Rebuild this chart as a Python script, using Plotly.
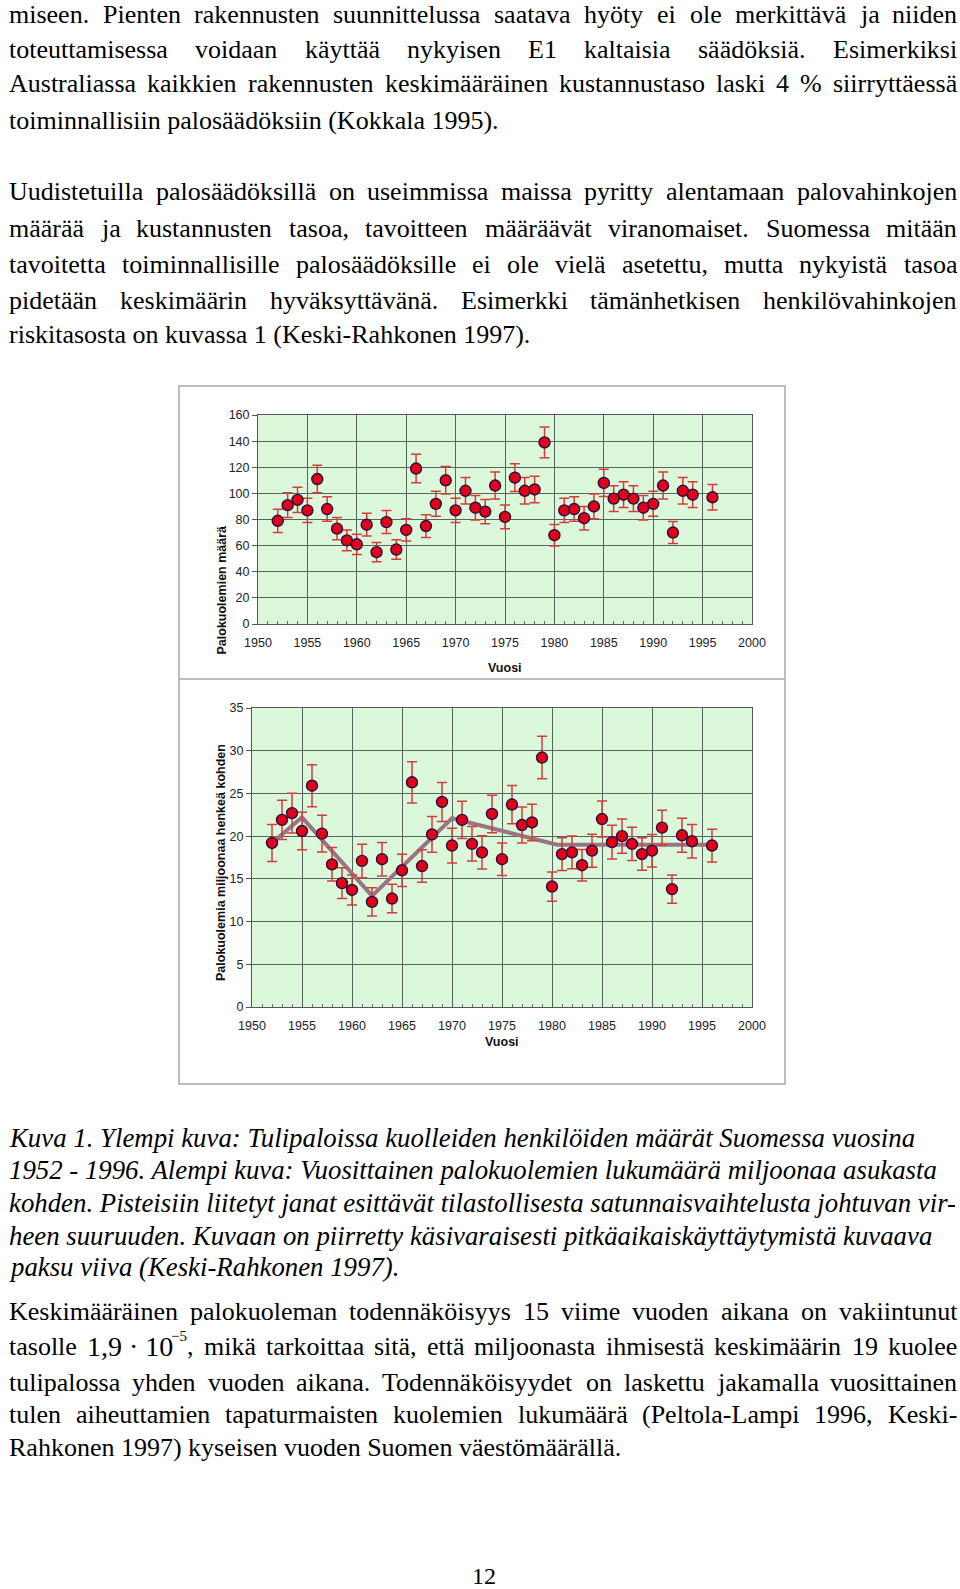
import plotly.graph_objects as go

W, H = 960, 1589

# ---------------- data ----------------
years = [1952, 1953, 1954, 1955, 1956, 1957, 1958, 1959, 1960, 1961, 1962,
         1963, 1964, 1965, 1966, 1967, 1968, 1969, 1970, 1971, 1972, 1973,
         1974, 1975, 1976, 1977, 1978, 1979, 1980, 1981, 1982, 1983, 1984,
         1985, 1986, 1987, 1988, 1989, 1990, 1991, 1992, 1993, 1994, 1996]

deaths = [79, 91, 95, 87, 111, 88, 73, 64, 61, 76, 55,
          78, 57, 72, 119, 75, 92, 110, 87, 102, 89, 86,
          106, 82, 112, 102, 103, 139, 68, 87, 88, 81, 90,
          108, 96, 99, 96, 89, 92, 106, 70, 102, 99, 97]

deaths_err = [8.9, 9.5, 9.7, 9.3, 10.5, 9.4, 8.5, 8.0, 7.8, 8.7, 7.4,
              8.8, 7.5, 8.5, 10.9, 8.7, 9.6, 10.5, 9.3, 10.1, 9.4, 9.3,
              10.3, 9.1, 10.6, 10.1, 10.1, 11.8, 8.2, 9.3, 9.4, 9.0, 9.5,
              10.4, 9.8, 9.9, 9.8, 9.4, 9.6, 10.3, 8.4, 10.1, 9.9, 9.8]

rate = [19.2, 21.9, 22.7, 20.6, 25.9, 20.3, 16.7, 14.5, 13.7, 17.1, 12.3,
        17.3, 12.7, 16.0, 26.3, 16.5, 20.2, 24.0, 18.9, 21.9, 19.1, 18.1,
        22.6, 17.3, 23.7, 21.3, 21.6, 29.2, 14.1, 17.9, 18.1, 16.6, 18.3,
        22.0, 19.3, 20.0, 19.1, 17.9, 18.3, 21.0, 13.8, 20.1, 19.4, 18.9]

rate_err = [2.16, 2.30, 2.33, 2.20, 2.46, 2.16, 1.96, 1.81, 1.75, 1.96, 1.66,
            1.96, 1.68, 1.89, 2.41, 1.90, 2.10, 2.29, 2.03, 2.17, 2.02, 1.96,
            2.19, 1.91, 2.24, 2.11, 2.13, 2.48, 1.71, 1.92, 1.93, 1.84, 1.93,
            2.11, 1.97, 2.01, 1.95, 1.90, 1.90, 2.04, 1.65, 1.99, 1.95, 1.92]

trend_years = [1952, 1955, 1962, 1970, 1980.5, 1996]
trend_vals = [19.2, 22.2, 13.0, 22.1, 19.0, 19.0]

x_ticks = [1950, 1955, 1960, 1965, 1970, 1975, 1980, 1985, 1990, 1995, 2000]
top_y_ticks = [0, 20, 40, 60, 80, 100, 120, 140, 160]
bot_y_ticks = [0, 5, 10, 15, 20, 25, 30, 35]

title_top_y = "Palokuolemien määrä"
title_bot_y = "Palokuolemia miljoonaa henkeä kohden"
title_x = "Vuosi"

para1 = [
    ("miseen. Pienten rakennusten suunnittelussa saatava hyöty ei ole merkittävä ja niiden", True),
    ("toteuttamisessa voidaan käyttää nykyisen E1 kaltaisia säädöksiä. Esimerkiksi", True),
    ("Australiassa kaikkien rakennusten keskimääräinen kustannustaso laski 4 % siirryttäessä", True),
    ("toiminnallisiin palosäädöksiin (Kokkala 1995).", False),
]
para2 = [
    ("Uudistetuilla palosäädöksillä on useimmissa maissa pyritty alentamaan palovahinkojen", True),
    ("määrää ja kustannusten tasoa, tavoitteen määräävät viranomaiset. Suomessa mitään", True),
    ("tavoitetta toiminnallisille palosäädöksille ei ole vielä asetettu, mutta nykyistä tasoa", True),
    ("pidetään keskimäärin hyväksyttävänä. Esimerkki tämänhetkisen henkilövahinkojen", True),
    ("riskitasosta on kuvassa 1 (Keski-Rahkonen 1997).", False),
]
caption = [
    "Kuva 1. Ylempi kuva: Tulipaloissa kuolleiden henkilöiden määrät Suomessa vuosina",
    "1952 - 1996. Alempi kuva: Vuosittainen palokuolemien lukumäärä miljoonaa asukasta",
    "kohden. Pisteisiin liitetyt janat esittävät tilastollisesta satunnaisvaihtelusta johtuvan vir-",
    "heen suuruuden. Kuvaan on piirretty käsivaraisesti pitkäaikaiskäyttäytymistä kuvaava",
    "paksu viiva (Keski-Rahkonen 1997).",
]
para3 = [
    ("Keskimääräinen palokuoleman todennäköisyys 15 viime vuoden aikana on vakiintunut", True),
    ("tasolle @MATH mikä tarkoittaa sitä, että miljoonasta ihmisestä keskimäärin 19 kuolee", True),
    ("tulipalossa yhden vuoden aikana. Todennäköisyydet on laskettu jakamalla vuosittainen", True),
    ("tulen aiheuttamien tapaturmaisten kuolemien lukumäärä (Peltola-Lampi 1996, Keski-", True),
    ("Rahkonen 1997) kyseisen vuoden Suomen väestömäärällä.", False),
]
page_number = "12"


def PX(x):
    return x / W


def PY(y):
    return 1 - y / H


# ---------------- text layout helpers ----------------
ROMAN = {' ': 250, '%': 833, '(': 333, ')': 333, ',': 250, '-': 333, '.': 250,
         ':': 278, '·': 250, '−': 564}
for d in '0123456789':
    ROMAN[d] = 500
ROMAN.update(dict(zip('ABCDEFGHIJKLMNOPQRSTUVWXYZ',
                      [722, 667, 667, 722, 611, 556, 722, 722, 333, 389, 722, 611, 889,
                       722, 722, 556, 722, 667, 556, 611, 722, 722, 944, 722, 722, 611])))
ROMAN.update(dict(zip('abcdefghijklmnopqrstuvwxyz',
                      [444, 500, 444, 500, 444, 333, 500, 500, 278, 278, 500, 278, 778,
                       500, 500, 500, 500, 333, 389, 278, 500, 500, 722, 500, 500, 444])))
ROMAN.update({'ä': 444, 'ö': 500, 'å': 444, 'Ä': 722, 'Ö': 722})

ITALIC = {' ': 250, '(': 333, ')': 333, ',': 250, '-': 333, '.': 250, ':': 333}
for d in '0123456789':
    ITALIC[d] = 500
ITALIC.update(dict(zip('ABCDEFGHIJKLMNOPQRSTUVWXYZ',
                       [611, 611, 667, 722, 611, 611, 722, 722, 333, 444, 667, 556, 833,
                        667, 722, 611, 722, 611, 500, 556, 722, 611, 833, 611, 556, 556])))
ITALIC.update(dict(zip('abcdefghijklmnopqrstuvwxyz',
                       [500, 500, 444, 500, 444, 278, 500, 500, 278, 278, 444, 278, 722,
                        500, 500, 500, 500, 389, 389, 278, 500, 444, 667, 444, 444, 389])))
ITALIC.update({'ä': 500, 'ö': 500})

LEFT, RIGHT = 8, 956
annotations = []
SERIF = "Liberation Serif, Times New Roman, serif"


def tw(s, size, table):
    return sum(table.get(c, 500) for c in s) * size / 1000.0


def add_piece(text, x, y, size, italic=False):
    annotations.append(dict(
        text=("<i>%s</i>" % text) if italic else text,
        x=PX(x), y=PY(y), xref="paper", yref="paper",
        xanchor="left", yanchor="middle", showarrow=False, borderpad=0,
        font=dict(family=SERIF, size=size, color="#000000")))


def add_line(line, y, size, justify, italic=False):
    if not justify:
        add_piece(line, LEFT, y, size, italic)
        return
    table = ITALIC if italic else ROMAN
    words = []
    for w in line.split(" "):
        if w == "@MATH":
            words.append([("1,9 · 10", 28, 0), ("−5", 15, -10), (",", size, 0)])
        else:
            words.append([(w, size, 0)])
    widths = [sum(tw(t, s, table) for t, s, _ in wd) for wd in words]
    gap = (RIGHT - LEFT - sum(widths)) / (len(words) - 1)
    x = LEFT
    for wd, wdt in zip(words, widths):
        xx = x
        for t, s, dy in wd:
            add_piece(t, xx, y + dy, s, italic)
            xx += tw(t, s, table)
        x += wdt + gap


BODY = 26
for (txt, j), y in zip(para1, [15, 49, 84, 120]):
    add_line(txt, y, BODY, j)
for (txt, j), y in zip(para2, [192, 228, 264, 300, 335]):
    add_line(txt, y, BODY, j)
cap_size = (RIGHT - LEFT) / (tw(caption[2], 1000, ITALIC) / 1000.0)
for txt, y in zip(caption, [1138, 1170, 1203, 1236, 1267]):
    add_line(txt, y, round(cap_size, 1), False, italic=True)
for (txt, j), y in zip(para3, [1311, 1346, 1382, 1414, 1447]):
    add_line(txt, y, BODY, j)

annotations.append(dict(text=page_number, x=PX(484), y=PY(1576), xref="paper", yref="paper",
                        xanchor="center", yanchor="middle", showarrow=False,
                        font=dict(family=SERIF, size=24, color="#000")))

# axis titles
sans_bold = dict(family="Liberation Sans, Arial, sans-serif", size=12.5, color="#111")
annotations += [
    dict(text="<b>%s</b>" % title_top_y, x=PX(212), y=PY(524), xref="paper", yref="paper",
         textangle=-90, showarrow=False, font=sans_bold),
    dict(text="<b>%s</b>" % title_bot_y, x=PX(212), y=PY(863), xref="paper", yref="paper",
         textangle=-90, showarrow=False, font=sans_bold),
    dict(text="<b>%s</b>" % title_x, x=PX(505), y=PY(668), xref="paper", yref="paper",
         showarrow=False, font=sans_bold),
    dict(text="<b>%s</b>" % title_x, x=PX(502), y=PY(1042), xref="paper", yref="paper",
         showarrow=False, font=sans_bold),
]

# ---------------- traces ----------------
MARKER = dict(size=11, color="#e0001a", line=dict(color="#2a0f3c", width=1.4))
ERR_COLOR = "#d23c3c"

fig = go.Figure()
fig.add_trace(go.Scatter(
    x=years, y=deaths, mode="markers", marker=MARKER, xaxis="x", yaxis="y",
    error_y=dict(type="data", array=deaths_err, visible=True, color=ERR_COLOR,
                 thickness=1.5, width=5),
    showlegend=False))
fig.add_trace(go.Scatter(
    x=trend_years, y=trend_vals, mode="lines", line=dict(color="#9a7483", width=4),
    xaxis="x2", yaxis="y2", showlegend=False))
fig.add_trace(go.Scatter(
    x=years, y=rate, mode="markers", marker=MARKER, xaxis="x2", yaxis="y2",
    error_y=dict(type="data", array=rate_err, visible=True, color=ERR_COLOR,
                 thickness=1.5, width=5),
    showlegend=False))

GRID = "#56665a"
tickfont = dict(family="Liberation Sans, Arial, sans-serif", size=12.5, color="#222")


def xax(domain, anchor):
    return dict(domain=domain, anchor=anchor, range=[1950, 2000], tickvals=x_ticks,
                showgrid=True, gridcolor=GRID, gridwidth=1, zeroline=False,
                showline=True, linecolor="#555", linewidth=1, mirror=True,
                ticks="inside", ticklen=4, tickcolor="#555", ticklabelstandoff=7,
                minor=dict(dtick=1, tick0=1950, ticks="inside", ticklen=3,
                           tickcolor="#666", showgrid=False),
                tickfont=tickfont, fixedrange=True, automargin=False)


def yax(domain, anchor, rng, vals):
    return dict(domain=domain, anchor=anchor, range=rng, tickvals=vals,
                showgrid=True, gridcolor=GRID, gridwidth=1, zeroline=False,
                showline=True, linecolor="#555", linewidth=1, mirror=True,
                ticks="outside", ticklen=5, tickcolor="#555",
                tickfont=tickfont, fixedrange=True, automargin=False)


fig.update_layout(
    width=W, height=H, margin=dict(l=0, r=0, t=0, b=0, pad=0, autoexpand=False),
    paper_bgcolor="white", plot_bgcolor="#dbf8db",
    xaxis=xax([PX(258), PX(752)], "y"),
    yaxis=yax([PY(624), PY(415)], "x", [0, 160], top_y_ticks),
    xaxis2=xax([PX(252), PX(752)], "y2"),
    yaxis2=yax([PY(1007), PY(708)], "x2", [0, 35], bot_y_ticks),
    annotations=annotations,
    shapes=[
        dict(type="rect", xref="paper", yref="paper", x0=PX(179), x1=PX(785),
             y0=PY(1084), y1=PY(386), line=dict(color="#a8a8a8", width=1.5)),
        dict(type="line", xref="paper", yref="paper", x0=PX(179), x1=PX(785),
             y0=PY(679), y1=PY(679), line=dict(color="#a8a8a8", width=1.5)),
    ],
    showlegend=False,
)

page_css = ("document.documentElement.style.margin='0';"
            "document.documentElement.style.overflow='hidden';"
            "document.body.style.margin='0';"
            "document.body.style.padding='0';"
            "document.body.style.overflow='hidden';")

fig.write_html("out.html", post_script=page_css,
               config={"displayModeBar": False, "staticPlot": True})
